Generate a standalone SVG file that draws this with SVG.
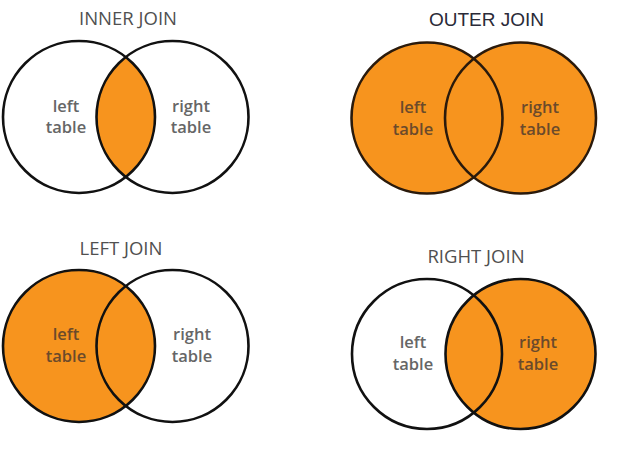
<svg xmlns="http://www.w3.org/2000/svg" width="619" height="455" viewBox="0 0 619 455">
<style>
.title{font-family:"Open Sans","Liberation Sans",sans-serif;font-size:18.5px;fill:#505050;text-anchor:middle}
.title2{font-family:"Liberation Sans",Arial,sans-serif;font-size:19px;fill:#2a2a38;text-anchor:middle}
.lbl{font-family:"Open Sans","Liberation Sans",sans-serif;font-size:16.5px;font-weight:600;fill:#666;text-anchor:middle}
.lblo{font-family:"Open Sans","Liberation Sans",sans-serif;font-size:16.5px;font-weight:600;fill:#6b4a2b;text-anchor:middle}
.ring{fill:none;stroke:#111;stroke-width:2.6}
.ringo{fill:none;stroke:#2a1a0c;stroke-width:2.6}
.org{fill:#f7941e}
</style>
<rect width="619" height="455" fill="#fff"/>
<g id="inner-join">
<text class="title" x="128" y="25">INNER JOIN</text>
<path class="org" d="M125.75 57.1 A76 76 0 0 1 125.75 176.9 A76 76 0 0 1 125.75 57.1 Z"/>
<circle class="ring" cx="79" cy="117" r="76"/>
<circle class="ring" cx="172.5" cy="117" r="76"/>
<text class="lbl" x="66" y="112">left</text>
<text class="lbl" x="66" y="133">table</text>
<text class="lbl" x="191" y="112">right</text>
<text class="lbl" x="191" y="133">table</text>
</g>
<g id="outer-join">
<text class="title2" x="486.5" y="26">OUTER JOIN</text>
<circle class="org" cx="427" cy="118" r="75.5"/>
<circle class="org" cx="520.5" cy="118" r="75.5"/>
<circle class="ringo" cx="427" cy="118" r="75.5"/>
<circle class="ringo" cx="520.5" cy="118" r="75.5"/>
<text class="lblo" x="413" y="113">left</text>
<text class="lblo" x="413" y="135">table</text>
<text class="lblo" x="540" y="113">right</text>
<text class="lblo" x="540" y="135">table</text>
</g>
<g id="left-join">
<text class="title" x="121" y="255">LEFT JOIN</text>
<circle class="org" cx="79" cy="346" r="76"/>
<circle class="ring" cx="79" cy="346" r="76"/>
<circle class="ring" cx="172.5" cy="346" r="76"/>
<text class="lblo" x="66" y="340">left</text>
<text class="lblo" x="66" y="362">table</text>
<text class="lbl" x="192" y="340">right</text>
<text class="lbl" x="192" y="362">table</text>
</g>
<g id="right-join">
<text class="title" x="476" y="263">RIGHT JOIN</text>
<circle class="org" cx="520.5" cy="354" r="75"/>
<circle class="ring" cx="427" cy="354" r="75"/>
<circle class="ring" cx="520.5" cy="354" r="75"/>
<text class="lbl" x="413" y="348">left</text>
<text class="lbl" x="413" y="370">table</text>
<text class="lblo" x="538" y="348">right</text>
<text class="lblo" x="538" y="370">table</text>
</g>
<g id="connectors"/>
</svg>
